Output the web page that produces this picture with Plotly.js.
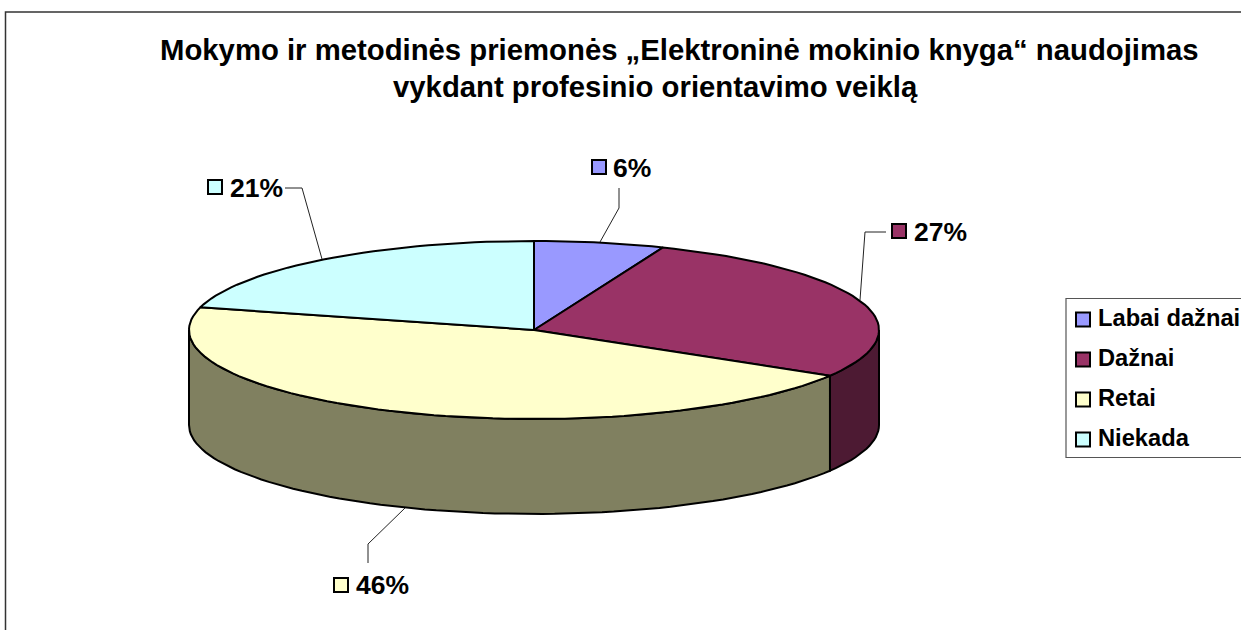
<!DOCTYPE html>
<html><head><meta charset="utf-8">
<script src="https://cdn.plot.ly/plotly-3.0.1.min.js"></script>
<style>html,body{margin:0;padding:0;background:#fff;overflow:hidden}#c{width:1241px;height:630px}</style>
</head><body><div id="c"></div>
<script>
const categories = ['Labai dažnai', 'Dažnai', 'Retai', 'Niekada'];
const values = [6.1, 27.49, 45.51, 20.9];
const topColors = ['#9999FF', '#993366', '#FFFFCC', '#CCFFFF'];
const sideColors = ['#4D4D80', '#4D1A33', '#808060', '#668080'];
const titleLines = ['Mokymo ir metodinės priemonės „Elektroninė mokinio knyga“ naudojimas', 'vykdant profesinio orientavimo veiklą'];

const cx = 534, cy = 330, rx = 345, ry = 89, depth = 95;
const FONT = '"Liberation Sans", Arial, sans-serif';
const pt = (deg, dy) => {
  const a = deg * Math.PI / 180;
  return [cx + rx * Math.sin(a), cy - ry * Math.cos(a) + (dy || 0)];
};
const arc = (a0, a1, dy) => {
  const n = Math.max(2, Math.ceil(Math.abs(a1 - a0) / 2));
  const out = [];
  for (let i = 0; i <= n; i++) out.push(pt(a0 + (a1 - a0) * i / n, dy));
  return out;
};
const total = values.reduce((s, v) => s + v, 0);
let acc = 0;
const spans = values.map(v => { const a0 = acc / total * 360; acc += v; return [a0, acc / total * 360]; });

const traces = [];
const poly = (pts, fill, w) => ({
  x: pts.map(p => p[0]), y: pts.map(p => p[1]), mode: 'lines', fill: 'toself', fillcolor: fill,
  line: {color: '#000', width: w, shape: 'linear'}, hoverinfo: 'skip', showlegend: false
});
spans.forEach((s, i) => {
  const a0 = Math.max(s[0], 90), a1 = Math.min(s[1], 270);
  if (a1 <= a0) return;
  const pts = arc(a0, a1, 0).concat(arc(a1, a0, depth));
  pts.push(pts[0]);
  traces.push(poly(pts, sideColors[i], 2));
});
spans.forEach((s, i) => {
  const pts = [[cx, cy]].concat(arc(s[0], s[1], 0));
  pts.push([cx, cy]);
  traces.push(poly(pts, topColors[i], 2));
});

const leaders = [
  [[600, 242], [619, 208], [619, 188]],
  [[860, 300], [865, 232], [886, 232]],
  [[405, 508], [368, 544], [368, 563]],
  [[322, 259], [302, 188], [285, 188]]
];
leaders.forEach(l => traces.push({
  x: l.map(p => p[0]), y: l.map(p => p[1]), mode: 'lines',
  line: {color: '#222', width: 1}, hoverinfo: 'skip', showlegend: false
}));

const swatchPos = [[599, 167], [899, 231], [341, 585], [215, 187]];
const labelPos = [[613, 170], [914, 234], [356, 587], [230, 190]];
const percent = values.map(v => Math.round(v / total * 100) + '%');
traces.push({
  x: swatchPos.map(p => p[0]), y: swatchPos.map(p => p[1]), mode: 'markers',
  marker: {symbol: 'square', size: 14, color: topColors, line: {color: '#000', width: 2}},
  hoverinfo: 'skip', showlegend: false
});
traces.push({
  x: labelPos.map(p => p[0]), y: labelPos.map(p => p[1]), mode: 'text',
  text: percent, textposition: 'middle right',
  textfont: {family: FONT, size: 26.5, color: '#000', weight: 700},
  hoverinfo: 'skip', showlegend: false
});

const legendSwatchY = [319.5, 359.5, 399.5, 439.5];
const legendTextY = [320, 360, 400, 440];
traces.push({
  x: categories.map(() => 1083), y: legendSwatchY, mode: 'markers',
  marker: {symbol: 'square', size: 14, color: topColors, line: {color: '#000', width: 2}},
  hoverinfo: 'skip', showlegend: false
});
traces.push({
  x: categories.map(() => 1098), y: legendTextY, mode: 'text',
  text: categories, textposition: 'middle right',
  textfont: {family: FONT, size: 23.7, color: '#000', weight: 700},
  hoverinfo: 'skip', showlegend: false
});

const titleX = [679.5, 655.5];
const titleY = [49, 86];
const layout = {
  width: 1241, height: 630, margin: {l: 0, r: 0, t: 0, b: 0},
  paper_bgcolor: '#fff', plot_bgcolor: '#fff', showlegend: false,
  xaxis: {range: [0, 1241], visible: false, fixedrange: true},
  yaxis: {range: [630, 0], visible: false, fixedrange: true},
  shapes: [
    {type: 'path', path: 'M5.5,630 L5.5,12 L1241,12', line: {color: '#333', width: 1.5}, layer: 'below'},
    {type: 'path', path: 'M1241,298.5 L1066,298.5 L1066,457.5 L1241,457.5', line: {color: '#555', width: 1.2}, layer: 'below'}
  ],
  annotations: titleLines.map((t, i) => ({
    text: t, x: titleX[i], y: titleY[i], xref: 'x', yref: 'y', xanchor: 'center', yanchor: 'middle',
    showarrow: false, font: {family: FONT, size: 29.3, color: '#000', weight: 700}
  }))
};
Plotly.newPlot('c', traces, layout, {displayModeBar: false, staticPlot: true});
</script></body></html>
